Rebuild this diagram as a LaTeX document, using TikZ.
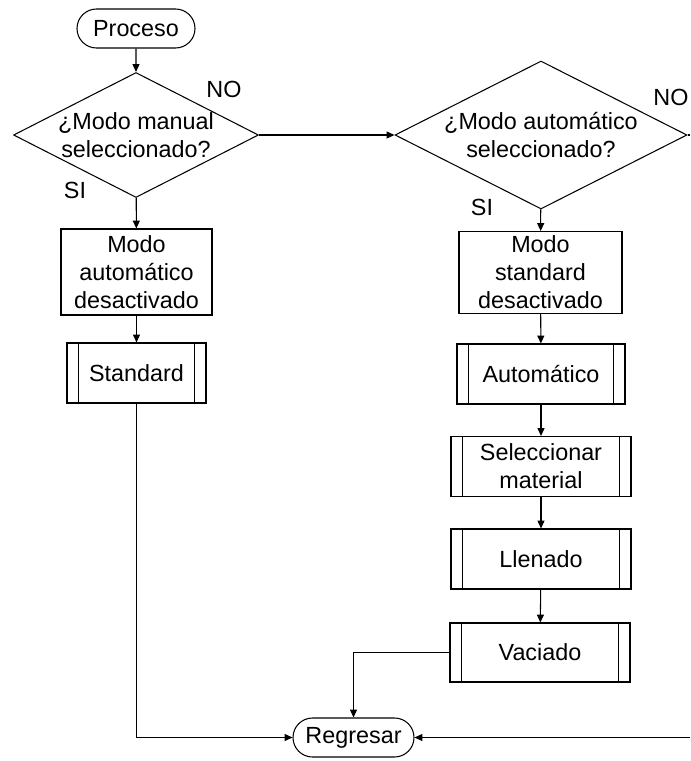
\documentclass[tikz,border=0pt]{standalone}
\usepackage{fontspec}
\setmainfont{Liberation Sans}
\usetikzlibrary{shapes.geometric,shapes.misc,arrows.meta}

\begin{document}
\begin{tikzpicture}[x=0.02cm, y=-0.02cm, >={Triangle[length=4.5pt,width=4pt]},
    every node/.style={font=\fontsize{13.3}{16}\selectfont, align=center},
    term/.style={draw, rounded rectangle, line width=0.6pt, inner sep=0pt},
    decision/.style={draw, diamond, aspect=1.96, inner sep=0pt, line width=0.6pt},
    actbox/.style={draw, rectangle, line width=0.6pt, inner sep=0pt},
    subproc/.style={actbox},
    flow/.style={->, line width=0.6pt}]
        \useasboundingbox (0,0) rectangle (690,761);

        % --- Inicio y fin ---
        \node[term, minimum width=118*0.02cm, minimum height=39*0.02cm] (pro) at (136,28.5) {Proceso};
        \node[term, minimum width=121*0.02cm, minimum height=39*0.02cm] (reg) at (353.5,737.5) {Regresar};

        % --- Decisiones ---
        \node[decision, minimum width=245*0.02cm, minimum height=125*0.02cm] (d1) at (136,135) {¿Modo manual\\seleccionado?};
        \node[decision, minimum width=292*0.02cm, minimum height=148*0.02cm] (d2) at (541,135) {¿Modo automático\\seleccionado?};
        \node at (224,89) {NO};
        \node at (75,190) {SI};
        \node at (671,97) {NO};
        \node at (482,207) {SI};

        % --- Columna izquierda (manual) ---
        \node[actbox, minimum width=151*0.02cm, minimum height=86*0.02cm] (mad) at (136.5,272) {Modo\\automático\\desactivado};
        \node[subproc, minimum width=139*0.02cm, minimum height=60*0.02cm] (std) at (136.5,373) {Standard};

        % --- Columna derecha (automático) ---
        \node[actbox, minimum width=163*0.02cm, minimum height=82*0.02cm] (msd) at (540.5,272.5) {Modo\\standard\\desactivado};
        \node[subproc, minimum width=168*0.02cm, minimum height=60*0.02cm] (aut) at (541,374) {Automático};
        \node[subproc, minimum width=180*0.02cm, minimum height=60*0.02cm] (sel) at (541,466.5) {Seleccionar\\material};
        \node[subproc, minimum width=180*0.02cm, minimum height=60*0.02cm] (lle) at (541,559) {Llenado};
        \node[subproc, minimum width=180*0.02cm, minimum height=59*0.02cm] (vac) at (540,652.5) {Vaciado};

        % Líneas internas de los subprocesos
        \foreach \n in {std,aut,sel,lle,vac} {
            \draw[line width=0.6pt] ([xshift=0.24cm]\n.north west) -- ([xshift=0.24cm]\n.south west);
            \draw[line width=0.6pt] ([xshift=-0.24cm]\n.north east) -- ([xshift=-0.24cm]\n.south east);
        }

        % --- Conexiones ---
        \coordinate (rt) at (690,135);
        \coordinate (rb) at (690,737.5);
        \draw[flow] (pro) -- (d1);
        \draw[flow] (d1.east) -- (d2.west);
        \draw[line width=0.6pt] (d2.east) -- (rt);
        \draw[flow] (d1) -- (mad);
        \draw[flow] (mad) -- (std);
        \draw[flow] (std.south) |- (reg.west);
        \draw[flow] (d2) -- (msd);
        \draw[flow] (msd) -- (aut);
        \draw[flow] (aut) -- (sel);
        \draw[flow] (sel) -- (lle);
        \draw[flow] (lle) -- (vac);
        \draw[flow] (vac.west) -| (reg.north);
        \draw[flow] (rb) -- (reg.east);
    \end{tikzpicture}
\end{document}
